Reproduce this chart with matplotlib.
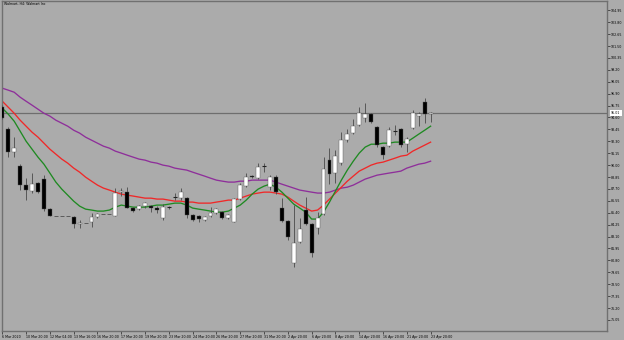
import matplotlib
matplotlib.use("Agg")
import matplotlib.pyplot as plt
from matplotlib.patches import Rectangle

title = "Walmart, H4: Walmart Inc"

# H4 candles, one per slot (flat bars are sessions with no move)
opens = [95.59, 93.47, 91.25, 89.90, 88.07, 87.49, 88.26, 88.65, 85.75, 85.08,
         85.08, 85.08, 84.98, 84.30, 84.40, 84.50, 84.98, 85.27, 85.27, 85.08,
         87.39, 87.39, 85.85, 85.75, 86.04, 86.04, 85.85, 84.88, 85.94, 86.91,
         86.81, 86.81, 85.17, 85.08, 84.69, 85.08, 85.37, 85.46, 84.88, 84.50,
         86.72, 87.97, 88.94, 88.74, 89.90, 87.87, 88.84, 85.85, 84.59, 80.54,
         82.57, 85.66, 84.30, 83.92, 85.27, 90.48, 89.23, 90.19, 92.41, 93.09,
         93.86, 94.53, 94.92, 93.66, 91.74, 91.83, 93.28, 93.47, 92.02, 93.57,
         94.73, 96.08, 94.92]
highs = [95.79, 93.66, 92.70, 90.09, 88.74, 89.23, 88.36, 89.03, 85.85, 85.08,
         85.08, 85.08, 85.08, 84.69, 84.40, 85.37, 85.37, 85.27, 85.27, 87.78,
         87.78, 87.87, 85.94, 86.14, 86.43, 86.14, 86.04, 86.23, 86.04, 87.30,
         87.78, 86.91, 85.27, 85.17, 85.08, 85.94, 85.85, 85.56, 85.27, 86.81,
         88.26, 89.23, 89.03, 90.19, 90.19, 89.03, 89.03, 86.81, 84.69, 86.14,
         84.88, 86.91, 84.40, 85.46, 90.77, 91.64, 91.45, 93.18, 93.47, 94.44,
         95.59, 95.98, 95.01, 93.76, 91.83, 93.66, 93.86, 93.57, 92.70, 95.31,
         95.11, 96.46, 95.11]
lows = [94.44, 90.77, 90.77, 87.58, 86.62, 87.30, 87.30, 85.56, 85.08, 85.08,
        85.08, 85.08, 83.92, 83.92, 84.40, 84.02, 84.88, 85.27, 85.27, 85.08,
        87.01, 85.85, 85.46, 85.66, 85.85, 85.46, 85.37, 84.69, 85.75, 86.62,
        86.62, 84.88, 84.59, 84.50, 84.59, 84.98, 85.27, 84.79, 84.79, 84.50,
        86.62, 87.87, 88.74, 88.65, 89.32, 87.58, 87.20, 84.50, 82.76, 80.15,
        82.47, 84.21, 81.12, 83.34, 85.17, 88.16, 88.26, 90.00, 92.22, 92.99,
        93.76, 94.15, 94.05, 91.74, 90.58, 91.74, 92.89, 91.74, 91.25, 93.47,
        93.76, 94.05, 94.15]
closes = [94.53, 91.25, 91.64, 88.07, 87.58, 88.16, 87.39, 85.75, 85.08, 85.08,
          85.08, 85.08, 84.30, 84.40, 84.40, 84.98, 85.27, 85.27, 85.27, 87.30,
          87.49, 85.85, 85.56, 86.04, 86.33, 85.85, 85.66, 85.94, 85.94, 86.91,
          87.39, 85.17, 84.69, 84.79, 84.98, 85.37, 85.75, 84.88, 85.17, 86.72,
          88.07, 88.84, 88.84, 89.80, 89.90, 88.84, 87.39, 84.59, 83.05, 82.47,
          83.82, 84.30, 81.51, 84.88, 89.61, 89.13, 90.87, 92.41, 92.99, 93.76,
          95.01, 94.92, 94.15, 91.93, 90.96, 93.37, 93.28, 91.93, 92.51, 95.01,
          94.92, 94.92, 95.01]

# moving averages, one value per candle
ma_fast = [95.50, 94.92, 94.24, 93.28, 92.31, 91.54, 90.77, 90.09, 89.23, 88.36,
           87.68, 87.10, 86.52, 86.04, 85.75, 85.66, 85.56, 85.56, 85.66, 85.94,
           86.14, 86.04, 85.94, 85.94, 85.94, 86.04, 86.14, 86.14, 86.23, 86.33,
           86.33, 86.14, 85.85, 85.75, 85.66, 85.56, 85.46, 85.46, 85.56, 85.85,
           86.14, 86.62, 87.20, 87.68, 87.97, 88.16, 87.87, 87.39, 86.81, 86.23,
           85.85, 85.46, 84.79, 84.79, 85.46, 86.43, 87.49, 88.55, 89.52, 90.38,
           91.16, 91.74, 92.02, 92.02, 92.12, 92.12, 92.22, 92.22, 92.22, 92.60,
           92.99, 93.37, 93.76]
ma_mid = [96.17, 95.59, 95.01, 94.34, 93.76, 93.18, 92.70, 92.12, 91.54, 91.06,
          90.58, 90.19, 89.71, 89.32, 88.84, 88.45, 88.07, 87.78, 87.59, 87.39,
          87.20, 87.10, 87.01, 86.91, 86.81, 86.81, 86.72, 86.72, 86.62, 86.52,
          86.52, 86.43, 86.43, 86.33, 86.33, 86.33, 86.43, 86.52, 86.62, 86.62,
          86.81, 87.01, 87.20, 87.30, 87.39, 87.39, 87.30, 87.20, 86.91, 86.52,
          86.14, 85.85, 85.56, 85.66, 86.14, 86.72, 87.30, 87.87, 88.45, 88.94,
          89.42, 89.71, 90.00, 90.19, 90.29, 90.48, 90.67, 90.87, 90.96, 91.35,
          91.64, 91.93, 92.22]
ma_slow = [97.43, 97.24, 97.04, 96.56, 96.17, 95.79, 95.40, 95.01, 94.73, 94.34,
           94.05, 93.76, 93.37, 93.09, 92.70, 92.41, 92.12, 91.83, 91.64, 91.35,
           91.16, 90.96, 90.77, 90.58, 90.48, 90.29, 90.19, 90.00, 89.90, 89.71,
           89.61, 89.52, 89.32, 89.13, 88.94, 88.74, 88.55, 88.45, 88.36, 88.36,
           88.45, 88.45, 88.55, 88.55, 88.55, 88.55, 88.36, 88.16, 87.97, 87.78,
           87.59, 87.49, 87.39, 87.30, 87.30, 87.39, 87.59, 87.78, 87.87, 88.07,
           88.36, 88.65, 88.84, 89.03, 89.13, 89.23, 89.32, 89.42, 89.71, 89.90,
           90.09, 90.19, 90.38]

price_labels = ["104.95", "103.80", "102.65", "101.50", "100.35", "99.20", "98.05",
                "96.90", "95.75", "94.60", "93.45", "92.30", "91.15", "90.00",
                "88.85", "87.70", "86.55", "85.40", "84.25", "83.10", "81.95",
                "80.80", "79.65", "78.50", "77.35", "76.20", "75.05"]
date_slots = [0, 4, 8, 12, 16, 20, 24, 28, 32, 36, 40, 44, 48, 52, 56, 60, 64, 68, 72]
date_labels = ["6 Mar 2020", "10 Mar 20:00", "12 Mar 04:00", "13 Mar 16:00",
               "16 Mar 20:00", "17 Mar 20:00", "19 Mar 20:00", "23 Mar 20:00",
               "24 Mar 20:00", "26 Mar 20:00", "27 Mar 20:00", "31 Mar 20:00",
               "2 Apr 20:00", "6 Apr 20:00", "8 Apr 20:00", "14 Apr 20:00",
               "16 Apr 20:00", "21 Apr 20:00", "23 Apr 20:00"]
last_price = 95.01

BG = "#ababab"
FS = 2.3

fig = plt.figure(figsize=(6.24, 3.40), dpi=100, facecolor=BG)
ax = fig.add_axes([2 / 624, 9 / 340, 605 / 624, 330 / 340], facecolor=BG)

w = 0.33
for i in range(len(opens)):
    o, h, l, c = opens[i], highs[i], lows[i], closes[i]
    if h == l:
        ax.hlines(o, i - w, i + w, color="#5a5a5a", lw=0.7, zorder=3)
        continue
    ax.vlines(i, l, h, color="#4a4a4a", lw=0.6, zorder=3)
    if o == c:
        ax.hlines(o, i - w, i + w, color="#222222", lw=0.8, zorder=4)
        continue
    face = "white" if c > o else "black"
    ax.add_patch(Rectangle((i - w, min(o, c)), 2 * w, abs(c - o),
                           facecolor=face, edgecolor="#555555", lw=0.3, zorder=4))

xs = list(range(len(opens)))
ax.plot(xs, ma_slow, color="#8e2f9a", lw=0.95, zorder=2)
ax.plot(xs, ma_mid, color="#f02828", lw=0.95, zorder=2)
ax.plot(xs, ma_fast, color="#1f8a22", lw=0.95, zorder=2)

ax.axhline(last_price, color="#6e6e6e", lw=0.9, zorder=1)

ax.set_xlim(-0.05, 101.65)
ax.set_ylim(73.98, 105.85)

ticks = [float(s) for s in price_labels]
ax.yaxis.tick_right()
ax.set_yticks(ticks)
ax.set_yticklabels(price_labels, fontsize=FS)
ax.set_xticks(date_slots)
ax.set_xticklabels(date_labels, fontsize=FS, ha="left")
ax.tick_params(axis="y", length=2, width=0.4, pad=0.8, colors="black")
ax.tick_params(axis="x", length=2, width=0.4, pad=0.8, colors="black")

for s in ax.spines.values():
    s.set_color("#707070")
    s.set_linewidth(1.0)

ax.annotate(f"{last_price:.2f}", xy=(1.0, last_price), xycoords=("axes fraction", "data"),
            xytext=(3, 0), textcoords="offset points", fontsize=FS, va="center",
            ha="left", annotation_clip=False,
            bbox=dict(boxstyle="square,pad=0.3", fc="white", ec="white", lw=0))

fig.text(4 / 624, 1 - 4 / 340, title, fontsize=FS, va="center", ha="left")

fig.savefig("out.png", dpi=100, facecolor=BG)
